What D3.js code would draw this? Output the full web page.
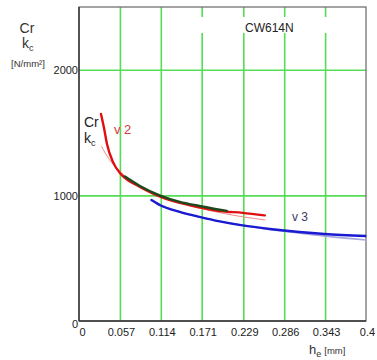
<!DOCTYPE html>
<html>
<head>
<meta charset="utf-8">
<script src="https://cdn.jsdelivr.net/npm/d3@7/dist/d3.min.js"></script>
<style>
  html, body { margin: 0; padding: 0; background: #fff; }
  svg { display: block; font-family: "Liberation Sans", Arial, sans-serif; }
</style>
</head>
<body>
<svg id="chart" width="377" height="360"></svg>
<script>
// Specific cutting force kc versus chip thickness he, alloy CW614N
const xTicks = [0, 0.057, 0.114, 0.171, 0.229, 0.286, 0.343, 0.4];
const xTickLabels = ["0", "0.057", "0.114", "0.171", "0.229", "0.286", "0.343", "0.4"];
const yTicks = [0, 1000, 2000];
const yTickLabels = ["0", "1000", "2000"];

// measured curve, cutting speed v2 (he in mm, kc in N/mm²)
const v2He = [0.0306, 0.0348, 0.039, 0.0473, 0.057, 0.064, 0.0849, 0.114, 0.1405, 0.168, 0.196, 0.228, 0.259];
const v2Kc = [1649, 1538, 1410, 1267, 1179, 1139, 1068, 988, 940, 905, 876, 861, 841];

// measured curve, second run at v2 (overlaid)
const v2bHe = [0.064, 0.0849, 0.114, 0.1405, 0.168, 0.196, 0.206];
const v2bKc = [1150, 1075, 996, 948, 916, 886, 877];

// fitted curve for v2
const v2FitHe = [0.0316, 0.04, 0.05, 0.057, 0.07, 0.09, 0.114, 0.14, 0.17, 0.2, 0.23, 0.259];
const v2FitKc = [1388, 1305, 1232, 1190, 1130, 1055, 992, 940, 895, 858, 828, 805];

// measured curve, cutting speed v3
const v3He = [0.101, 0.114, 0.1405, 0.168, 0.196, 0.228, 0.266, 0.307, 0.342, 0.399];
const v3Kc = [964, 920, 869, 829, 793, 761, 733, 709, 693, 677];

// fitted curve for v3
const v3FitHe = [0.101, 0.12, 0.14, 0.17, 0.2, 0.23, 0.266, 0.3, 0.35, 0.4];
const v3FitKc = [960, 910, 868, 826, 790, 760, 728, 705, 672, 645];

const svg = d3.select("#chart");
const plotL = 79, plotR = 366, plotT = 7, plotB = 321;

const x = d3.scaleLinear().domain([0, 0.4]).range([plotL, plotR]);
const y = d3.scaleLinear().domain([0, 2500]).range([plotB, plotT]);

const gridColor = "#55dd55";

// vertical grid
svg.append("g")
  .attr("transform", `translate(0,${plotB})`)
  .call(d3.axisBottom(x).tickValues(xTicks.slice(1, -1)).tickSize(-(plotB - plotT)).tickFormat(""))
  .call(g => g.select(".domain").remove())
  .call(g => g.selectAll("line").attr("stroke", gridColor).attr("stroke-width", 1.6));

// horizontal grid
svg.append("g")
  .attr("transform", `translate(${plotL},0)`)
  .call(d3.axisLeft(y).tickValues(yTicks.slice(1)).tickSize(-(plotR - plotL)).tickFormat(""))
  .call(g => g.select(".domain").remove())
  .call(g => g.selectAll("line").attr("stroke", gridColor).attr("stroke-width", 1.6));

// white band behind the title
svg.append("rect")
  .attr("x", 186).attr("y", 17).attr("width", plotR - 186 - 1).attr("height", 16)
  .attr("fill", "#fff");

// frame
svg.append("rect")
  .attr("x", plotL).attr("y", plotT).attr("width", plotR - plotL).attr("height", plotB - plotT)
  .attr("fill", "none").attr("stroke", "#666").attr("stroke-width", 1.2);
svg.append("line")
  .attr("x1", plotL).attr("x2", plotR).attr("y1", plotB).attr("y2", plotB)
  .attr("stroke", "#333").attr("stroke-width", 1.6);
svg.append("line")
  .attr("x1", plotL).attr("x2", plotL).attr("y1", plotT).attr("y2", plotB)
  .attr("stroke", "#333").attr("stroke-width", 1.4);

// x tick labels
svg.append("g")
  .attr("transform", `translate(0,${plotB})`)
  .call(d3.axisBottom(x).tickValues(xTicks).tickSize(0).tickPadding(0)
    .tickFormat((d, i) => xTickLabels[i]))
  .call(g => g.select(".domain").remove())
  .call(g => g.selectAll("text")
    .attr("font-family", "Liberation Sans, Arial, sans-serif")
    .attr("font-size", 11).attr("fill", "#222")
    .attr("dy", 0).attr("y", 15)
    .attr("dx", (d, i) => i === 0 ? 3 : 1));

// y tick labels
svg.append("g")
  .attr("transform", `translate(${plotL},0)`)
  .call(d3.axisLeft(y).tickValues(yTicks).tickSize(0).tickPadding(1)
    .tickFormat((d, i) => yTickLabels[i]))
  .call(g => g.select(".domain").remove())
  .call(g => g.selectAll("text")
    .attr("font-family", "Liberation Sans, Arial, sans-serif")
    .attr("font-size", 11).attr("fill", "#222")
    .attr("dy", (d, i) => i === 0 ? "0.55em" : "0.35em"));

// curves
const line = d3.line().curve(d3.curveMonotoneX);
function drawCurve(hs, ks, color, width) {
  svg.append("path")
    .attr("d", line(hs.map((h, i) => [x(h), y(ks[i])])))
    .attr("fill", "none").attr("stroke", color).attr("stroke-width", width)
    .attr("stroke-linecap", "round").attr("stroke-linejoin", "round");
}
drawCurve(v2FitHe, v2FitKc, "#f08a8a", 1);
drawCurve(v3FitHe, v3FitKc, "#a8a8e0", 1.6);
drawCurve(v2He, v2Kc, "#e01010", 2.4);
drawCurve(v2bHe, v2bKc, "#1c4a1c", 2.4);
drawCurve(v3He, v3Kc, "#1a1ad0", 2.4);

// y-axis title
const yt = svg.append("g").attr("fill", "#333");
yt.append("text").attr("x", 27).attr("y", 33).attr("text-anchor", "middle")
  .attr("font-size", 14).text("Cr");
const ykc = yt.append("text").attr("x", 22).attr("y", 48).attr("font-size", 14);
ykc.append("tspan").text("k");
ykc.append("tspan").attr("font-size", 9).attr("dy", 3).text("c");
yt.append("text").attr("x", 28).attr("y", 67).attr("text-anchor", "middle")
  .attr("font-size", 9.5).text("[N/mm²]");

// x-axis title
const xt = svg.append("text").attr("x", 309).attr("y", 354).attr("fill", "#333");
xt.append("tspan").attr("font-size", 13).text("h");
xt.append("tspan").attr("font-size", 9).attr("dy", 3).text("e");
xt.append("tspan").attr("font-size", 9.5).attr("dy", -3).attr("dx", 3).text("[mm]");

// in-plot labels
svg.append("text").attr("x", 84).attr("y", 127).attr("font-size", 14).attr("fill", "#222").text("Cr");
const ikc = svg.append("text").attr("x", 84).attr("y", 143).attr("font-size", 14).attr("fill", "#222");
ikc.append("tspan").text("k");
ikc.append("tspan").attr("font-size", 9).attr("dy", 3).text("c");
svg.append("text").attr("x", 114).attr("y", 134).attr("font-size", 13).attr("fill", "#d23a3a").text("v 2");
svg.append("text").attr("x", 292).attr("y", 221).attr("font-size", 12).attr("fill", "#3a3a66").text("v 3");

svg.append("text").attr("x", 245).attr("y", 32).attr("font-size", 12).attr("fill", "#222").text("CW614N");
</script>
</body>
</html>
